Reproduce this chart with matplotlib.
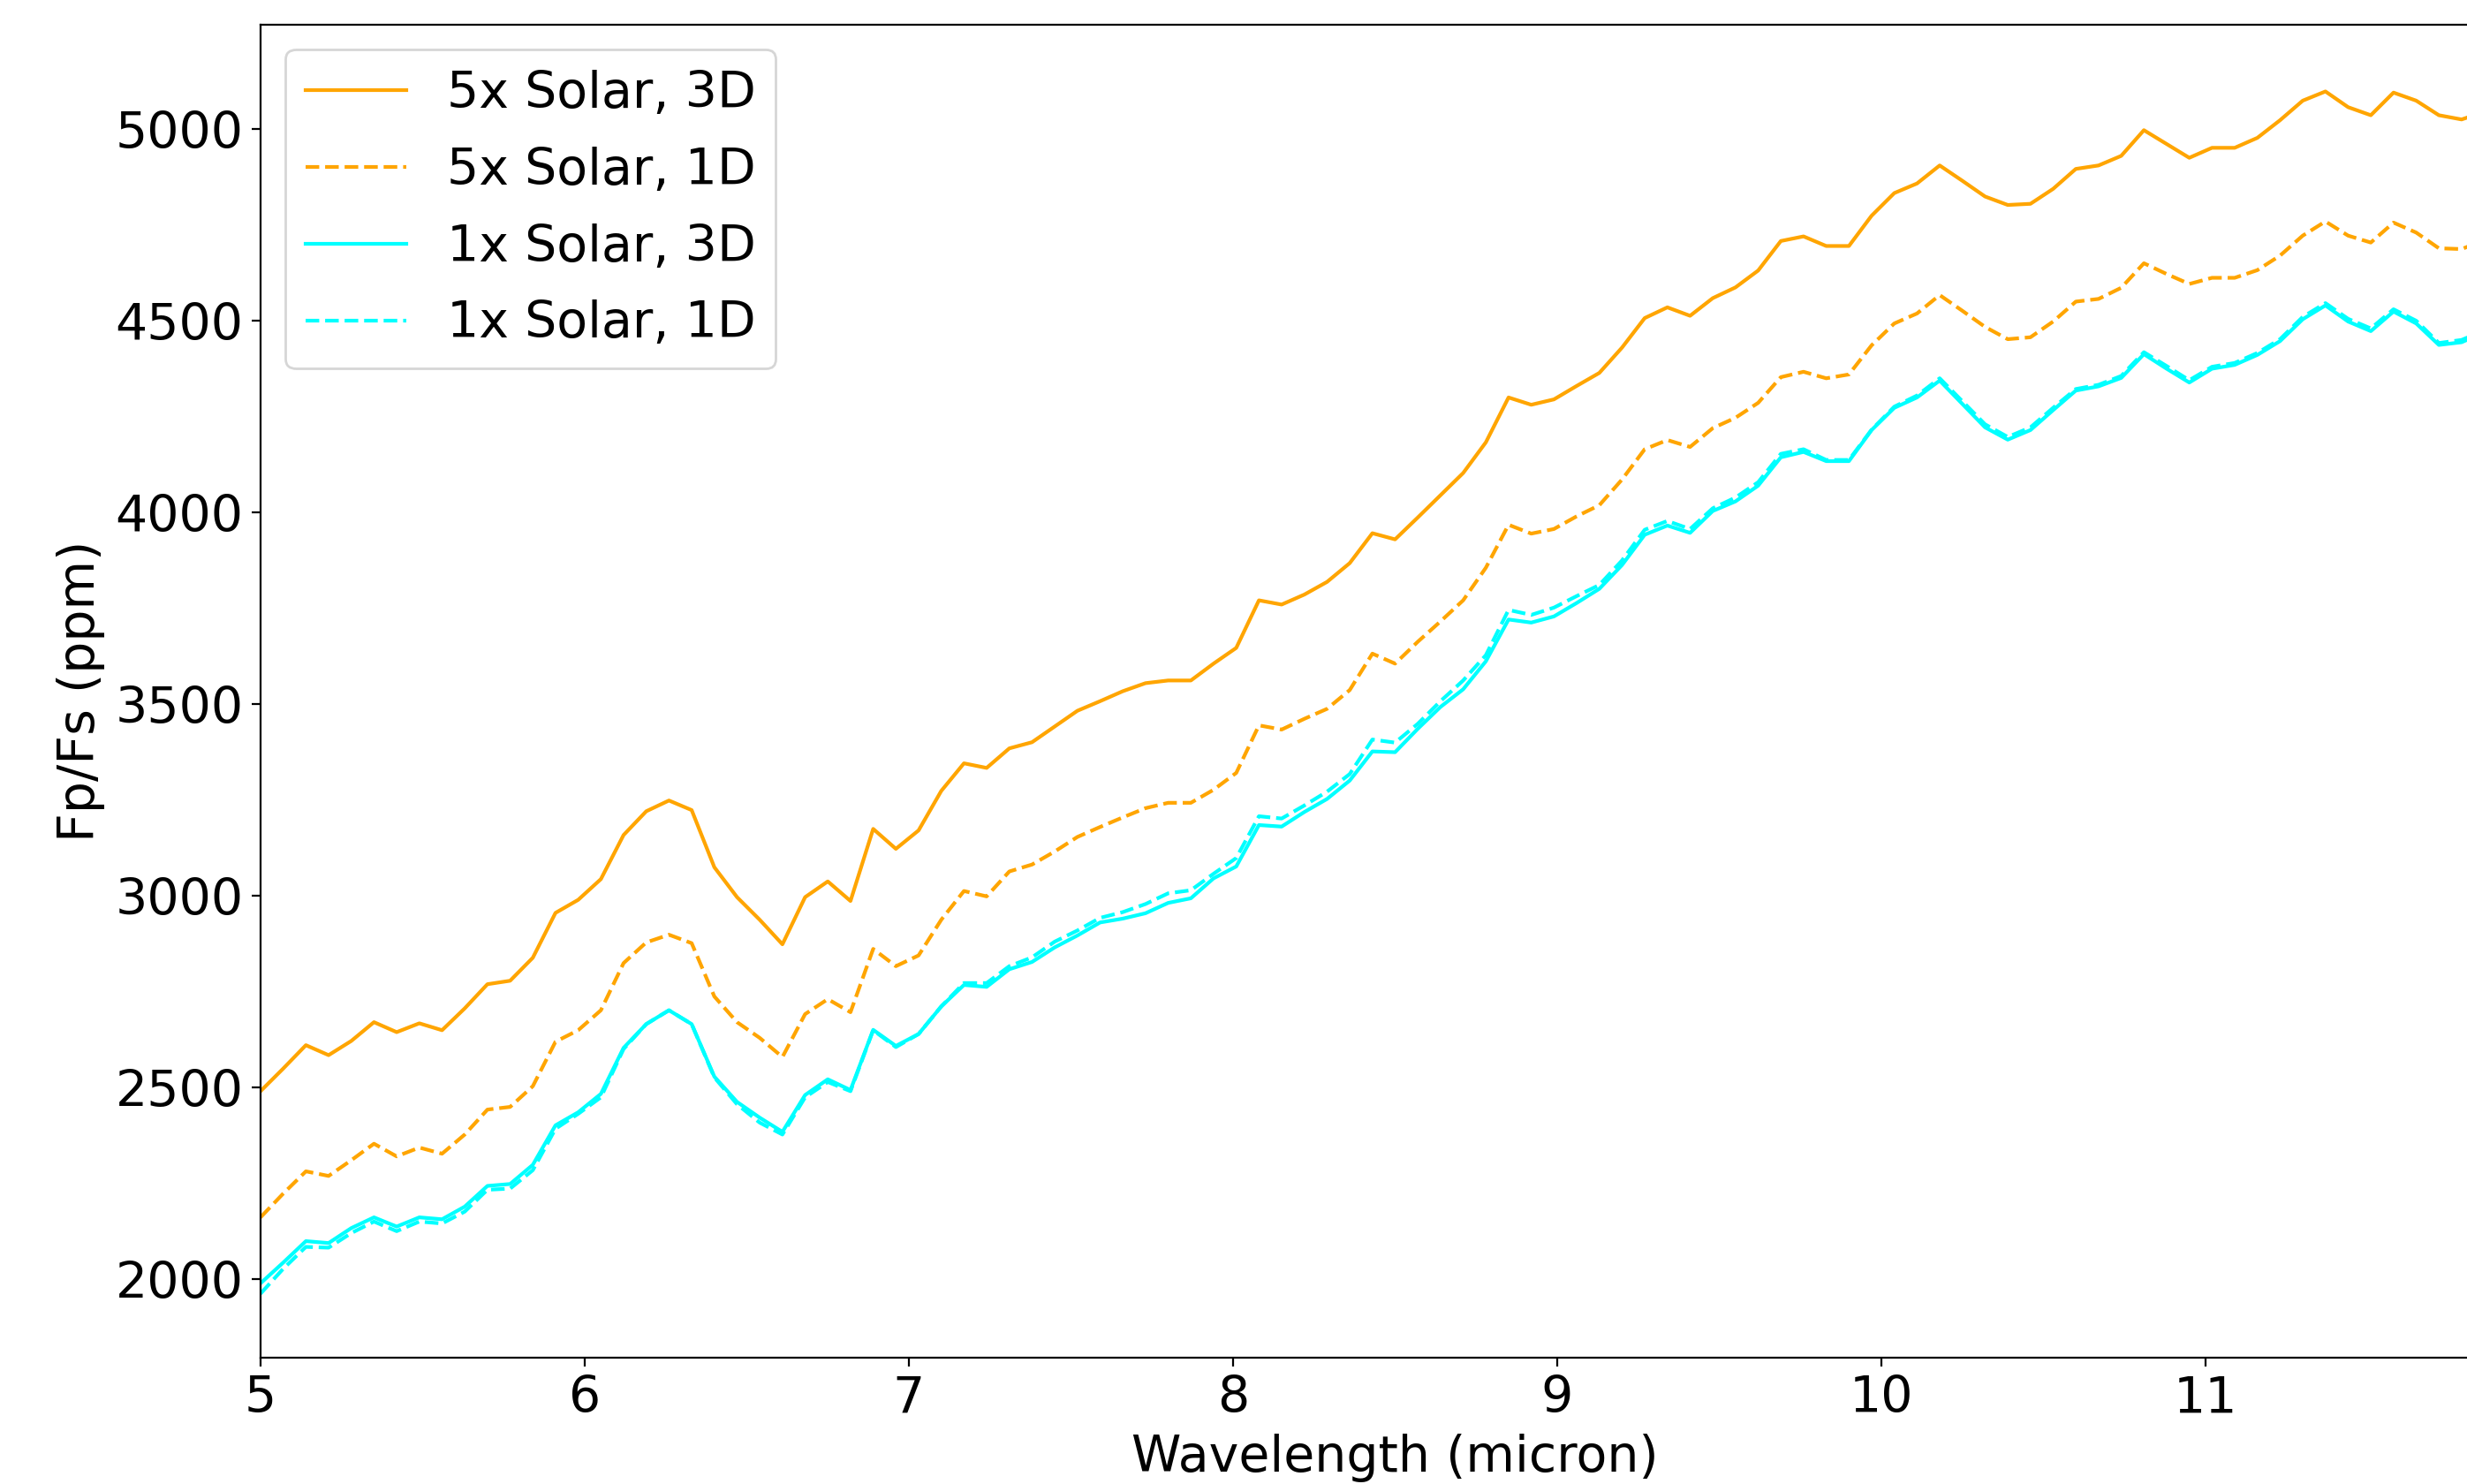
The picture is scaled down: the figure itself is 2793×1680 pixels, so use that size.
import matplotlib
matplotlib.use('Agg')
import matplotlib.pyplot as plt

# Wavelength grid (micron)
wavelength = [5.00, 5.07, 5.14, 5.21, 5.28, 5.35, 5.42, 5.49, 5.56, 5.63,
              5.70, 5.77, 5.84, 5.91, 5.98, 6.05, 6.12, 6.19, 6.26, 6.33,
              6.40, 6.47, 6.54, 6.61, 6.68, 6.75, 6.82, 6.89, 6.96, 7.03,
              7.10, 7.17, 7.24, 7.31, 7.38, 7.45, 7.52, 7.59, 7.66, 7.73,
              7.80, 7.87, 7.94, 8.01, 8.08, 8.15, 8.22, 8.29, 8.36, 8.43,
              8.50, 8.57, 8.64, 8.71, 8.78, 8.85, 8.92, 8.99, 9.06, 9.13,
              9.20, 9.27, 9.34, 9.41, 9.48, 9.55, 9.62, 9.69, 9.76, 9.83,
              9.90, 9.97, 10.04, 10.11, 10.18, 10.25, 10.32, 10.39, 10.46, 10.53,
              10.60, 10.67, 10.74, 10.81, 10.88, 10.95, 11.02, 11.09, 11.16, 11.23,
              11.30, 11.37, 11.44, 11.51, 11.58, 11.65, 11.72, 11.79, 11.86]

# Fp/Fs (ppm)
solar5_3d = [2491, 2550, 2611, 2585, 2622, 2671, 2645, 2668, 2650, 2707,
             2770, 2779, 2839, 2956, 2990, 3044, 3159, 3221, 3249, 3224,
             3075, 2997, 2938, 2874, 2997, 3038, 2987, 3175, 3123, 3171,
             3274, 3346, 3334, 3385, 3401, 3442, 3483, 3508, 3534, 3555,
             3562, 3562, 3606, 3647, 3771, 3760, 3786, 3819, 3868, 3946,
             3930, 3987, 4045, 4103, 4183, 4300, 4281, 4295, 4330, 4364,
             4430, 4507, 4535, 4513, 4559, 4587, 4631, 4708, 4720, 4695,
             4695, 4774, 4833, 4858, 4905, 4865, 4824, 4802, 4805, 4844,
             4896, 4905, 4930, 4997, 4961, 4925, 4951, 4951, 4977, 5023,
             5074, 5098, 5057, 5036, 5095, 5074, 5036, 5025, 5045]

solar5_1d = [2162, 2224, 2282, 2270, 2311, 2354, 2321, 2344, 2328, 2378,
             2443, 2450, 2504, 2620, 2650, 2702, 2825, 2879, 2899, 2877,
             2738, 2671, 2630, 2580, 2692, 2731, 2697, 2862, 2817, 2845,
             2938, 3013, 2999, 3064, 3082, 3116, 3154, 3180, 3205, 3229,
             3243, 3243, 3277, 3321, 3445, 3434, 3462, 3488, 3537, 3632,
             3606, 3663, 3716, 3771, 3856, 3968, 3945, 3957, 3990, 4019,
             4086, 4165, 4189, 4171, 4220, 4247, 4286, 4353, 4367, 4350,
             4360, 4436, 4493, 4519, 4567, 4526, 4484, 4452, 4457, 4498,
             4550, 4557, 4586, 4650, 4622, 4596, 4612, 4612, 4632, 4670,
             4722, 4759, 4722, 4704, 4756, 4730, 4689, 4687, 4710]

solar1_3d = [1990, 2044, 2100, 2095, 2134, 2162, 2138, 2162, 2157, 2190,
             2244, 2249, 2299, 2402, 2436, 2484, 2604, 2666, 2702, 2666,
             2529, 2463, 2422, 2385, 2481, 2522, 2494, 2651, 2609, 2640,
             2712, 2768, 2763, 2809, 2828, 2866, 2897, 2931, 2941, 2955,
             2982, 2994, 3046, 3077, 3185, 3181, 3219, 3253, 3301, 3377,
             3375, 3436, 3493, 3539, 3612, 3721, 3713, 3729, 3764, 3801,
             3863, 3942, 3966, 3947, 4004, 4029, 4070, 4144, 4158, 4134,
             4134, 4215, 4273, 4300, 4344, 4283, 4222, 4190, 4215, 4267,
             4318, 4329, 4351, 4413, 4375, 4339, 4375, 4385, 4411, 4447,
             4504, 4540, 4498, 4473, 4524, 4493, 4437, 4444, 4470]

solar1_1d = [1963, 2028, 2085, 2083, 2121, 2151, 2126, 2151, 2146, 2177,
             2234, 2237, 2285, 2393, 2432, 2475, 2601, 2666, 2702, 2666,
             2527, 2457, 2409, 2378, 2475, 2515, 2491, 2650, 2606, 2640,
             2712, 2773, 2773, 2817, 2840, 2881, 2910, 2943, 2958, 2979,
             3007, 3015, 3058, 3099, 3208, 3202, 3236, 3272, 3318, 3408,
             3400, 3449, 3508, 3562, 3628, 3746, 3733, 3752, 3782, 3811,
             3875, 3955, 3978, 3957, 4011, 4039, 4079, 4153, 4165, 4137,
             4137, 4216, 4276, 4305, 4350, 4290, 4230, 4197, 4222, 4273,
             4322, 4333, 4356, 4418, 4382, 4345, 4380, 4390, 4416, 4452,
             4510, 4546, 4505, 4480, 4530, 4500, 4442, 4450, 4475]

xticks = [5, 6, 7, 8, 9, 10, 11]

plt.rcParams['font.size'] = 20.5

fig = plt.figure(figsize=(13.965, 8.4), dpi=200)
# axes runs past the right edge of the picture, as in the original crop
ax = fig.add_axes([0.1056, 0.0851, 0.9198, 0.8985])

ax.plot(wavelength, solar5_3d, color='orange', ls='-', label='5x Solar, 3D')
ax.plot(wavelength, solar5_1d, color='orange', ls='--', label='5x Solar, 1D')
ax.plot(wavelength, solar1_3d, color='cyan', ls='-', label='1x Solar, 3D')
ax.plot(wavelength, solar1_1d, color='cyan', ls='--', label='1x Solar, 1D')

ax.set_xlim(5, 12)
ax.set_ylim(1796, 5273)
ax.set_xticks(xticks)
ax.set_xlabel('Wavelength (micron)')
ax.set_ylabel('Fp/Fs (ppm)')
ax.legend(loc='upper left', labelspacing=0.56)

fig.savefig('out.png', dpi=200)
